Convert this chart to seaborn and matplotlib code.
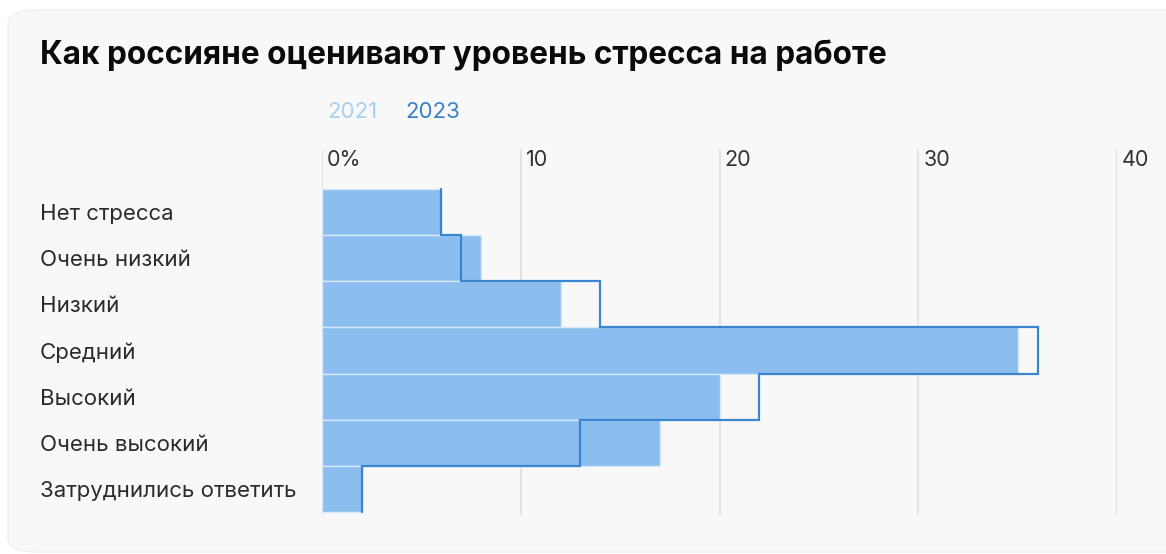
import matplotlib
matplotlib.use("Agg")
import matplotlib.pyplot as plt
import matplotlib.transforms as mtransforms
from matplotlib.patches import FancyBboxPatch
import numpy as np
import pandas as pd
import seaborn as sns

# ---- data ----
categories = ["Нет стресса", "Очень низкий", "Низкий", "Средний",
              "Высокий", "Очень высокий", "Затруднились ответить"]
values_2021 = [6, 8, 12, 35, 20, 17, 2]
values_2023 = [6, 7, 14, 36, 22, 13, 2]
x_ticks = [0, 10, 20, 30, 40]
x_tick_labels = ["0%", "10", "20", "30", "40"]
title = "Как россияне оценивают уровень стресса на работе"
legend_labels = ["2021", "2023"]

C2021 = "#8bbeee"
C2023 = "#3a84d0"
C2021_TEXT = "#a9cff3"
C2023_TEXT = "#3a7fc8"

sns.set_theme(style="white")
plt.rcParams["font.family"] = ["Inter", "DejaVu Sans"]

W, H = 1166, 554
fig = plt.figure(figsize=(W / 100, H / 100), dpi=100)
fig.patch.set_facecolor("white")

# card background
card = FancyBboxPatch((8 / W, 2 / H), 1190 / W, 542 / H,
                      boxstyle="round,pad=0,rounding_size=0.025",
                      transform=fig.transFigure, facecolor="#f8f8f8",
                      edgecolor="#f0f0f0", linewidth=1, zorder=-10)
fig.patches.append(card)

# axes placement in pixels
left_px, right_px = 322, 1117
top_px, bot_px = 149, 515
ax = fig.add_axes([left_px / W, 1 - bot_px / H, (right_px - left_px) / W, (bot_px - top_px) / H])
ax.set_facecolor("none")
ax.set_zorder(2)

df = pd.DataFrame({"cat": categories, "v2021": values_2021, "v2023": values_2023})

sns.barplot(data=df, x="v2021", y="cat", orient="h", width=1.0, color=C2021,
            saturation=1, edgecolor="#d6e7f8", linewidth=1.0, ax=ax, zorder=2)

# 2023 step outline
ys, xs = [], []
for i, v in enumerate(values_2023):
    xs += [v, v]
    ys += [i - 0.5, i + 0.5]
ax.plot(xs, ys, color=C2023, lw=1.6, zorder=3, solid_joinstyle="miter")

row_px = (512 - 189) / len(categories)
y_top = (top_px - 189) / row_px - 0.5
y_bot = (bot_px - 189) / row_px - 0.5
ax.set_ylim(y_bot, y_top)
ax.set_xlim(0, 40)

for x in x_ticks:
    ax.axvline(x, color="#e3e3e3", lw=1.5, zorder=1)

for s in ax.spines.values():
    s.set_visible(False)

ax.set_xlabel("")
ax.set_ylabel("")
ax.set_xticks([])
ax.set_yticks(range(len(categories)))
ax.set_yticklabels(categories, fontsize=16, color="#2b2b2b")
for lab in ax.get_yticklabels():
    lab.set_horizontalalignment("left")
ax.tick_params(axis="y", length=0, pad=(left_px - 40) * 0.72)

trans = mtransforms.blended_transform_factory(ax.transData, ax.transAxes)
for x, lab in zip(x_ticks, x_tick_labels):
    ax.text(x + 0.25, 1 - (160 - top_px) / (bot_px - top_px), lab, transform=trans,
            ha="left", va="center", fontsize=15.5, color="#333333", clip_on=False)

fig.text(40 / W, 1 - 55 / H, title, fontsize=22.7, fontweight="bold",
         color="#0a0a0a", ha="left", va="center")
fig.text(327 / W, 1 - 112 / H, legend_labels[0], fontsize=16, color=C2021_TEXT,
         ha="left", va="center")
fig.text(405 / W, 1 - 112 / H, legend_labels[1], fontsize=16, color=C2023_TEXT,
         ha="left", va="center")

fig.savefig("out.png", dpi=100, facecolor="white")
